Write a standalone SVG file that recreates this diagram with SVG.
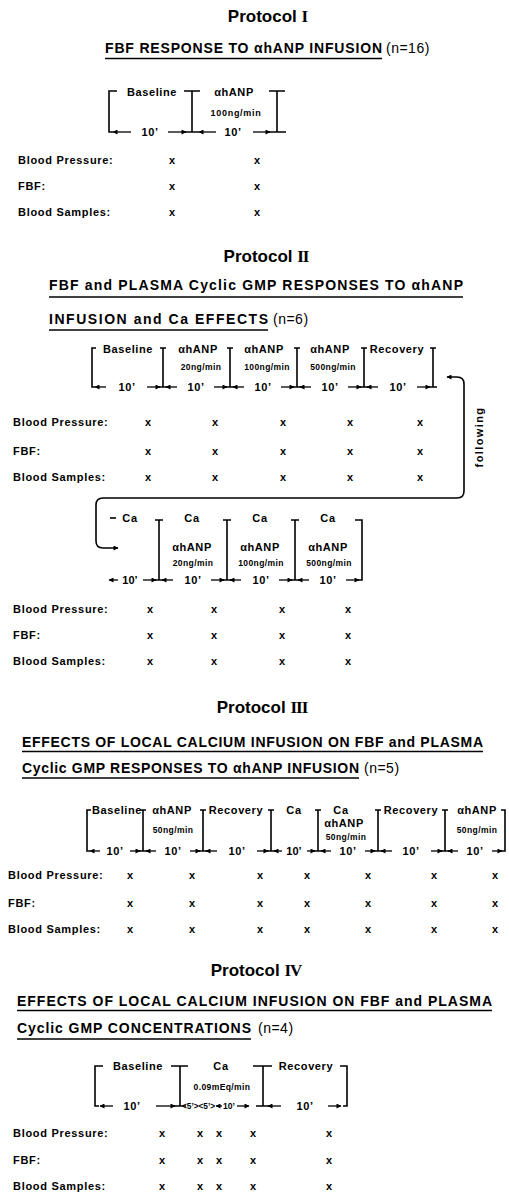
<svg xmlns="http://www.w3.org/2000/svg" width="509" height="1192" viewBox="0 0 509 1192">
<defs>
<marker id="ah" viewBox="0 0 10 10" refX="9" refY="5" markerWidth="6" markerHeight="5" markerUnits="userSpaceOnUse" orient="auto-start-reverse"><path d="M0,0 L10,5 L0,10 z" fill="#000"/></marker>
</defs>
<style>
text{font-family:"Liberation Sans",Arial,Helvetica,sans-serif;fill:#000}
.ttl{font-size:17px;font-weight:bold;text-anchor:middle}
.rn{font-family:"Liberation Serif","Times New Roman",serif}
.hd{font-size:14px;font-weight:bold}
.nn{font-size:14px;letter-spacing:0.5px}
.lab{font-size:11px;font-weight:bold;letter-spacing:0.7px}
.bl{font-size:11px;font-weight:bold;letter-spacing:0.6px;text-anchor:middle}
.sm{font-size:8.5px;font-weight:bold;letter-spacing:0.4px;text-anchor:middle}
.x{font-size:11px;font-weight:bold;text-anchor:middle}
.ln{stroke:#000;stroke-width:1.6;fill:none}
.ul{stroke:#000;stroke-width:1.3}
.ar{stroke:#000;stroke-width:1.3;marker-end:url(#ah)}
</style>
<rect width="509" height="1192" fill="#fff"/>

<!-- Protocol I -->
<g id="p1-title">
<text class="ttl" x="268" y="22">Protocol <tspan class="rn">I</tspan></text>
<text class="hd" x="105" y="53" textLength="277" lengthAdjust="spacing">FBF RESPONSE TO αhANP INFUSION</text>
<line class="ul" x1="105" y1="58.5" x2="382" y2="58.5"/>
<text class="nn" x="386" y="53">(n=16)</text>
</g>
<g id="p1-baseline">
<path class="ln" d="M117,91 H109 V132 H113"/>
<text class="bl" x="152" y="96">Baseline</text>
<line class="ar" x1="131" y1="132" x2="113" y2="132"/>
<text class="bl" x="150" y="136">10’</text>
<line class="ar" x1="168" y1="132" x2="186" y2="132"/>
<path class="ln" d="M184,91 H200 M192,91 V132 M185,132 H199"/>
</g>
<g id="p1-anp">
<text class="bl" x="234" y="96">αhANP</text>
<text class="sm" x="236" y="116" style="font-size:9px;letter-spacing:0.7px">100ng/min</text>
<line class="ar" x1="216" y1="132" x2="199" y2="132"/>
<text class="bl" x="233" y="136">10’</text>
<line class="ar" x1="253" y1="132" x2="270" y2="132"/>
<path class="ln" d="M269,91 H285 M277,91 V132 M268,132 H286"/>
</g>
<g id="p1-rows">
<text class="lab" x="18" y="164">Blood Pressure:</text>
<text class="lab" x="18" y="190">FBF:</text>
<text class="lab" x="18" y="216">Blood Samples:</text>
<text class="x" x="172" y="164">x</text><text class="x" x="257" y="164">x</text>
<text class="x" x="172" y="190">x</text><text class="x" x="257" y="190">x</text>
<text class="x" x="172" y="216">x</text><text class="x" x="257" y="216">x</text>
</g>

<!-- Protocol II -->
<g id="p2-title">
<text class="ttl" x="266" y="262">Protocol <tspan class="rn" style="letter-spacing:-1px">II</tspan></text>
<text class="hd" x="49" y="290" textLength="414" lengthAdjust="spacing">FBF and PLASMA Cyclic GMP RESPONSES TO αhANP</text>
<line class="ul" x1="49" y1="297" x2="463" y2="297"/>
<text class="hd" x="49" y="324" textLength="219" lengthAdjust="spacing">INFUSION and Ca EFFECTS</text>
<line class="ul" x1="49" y1="330" x2="268" y2="330"/>
<text class="nn" x="273" y="324">(n=6)</text>
</g>
<g id="p2-baseline">
<path class="ln" d="M96,348 H92 V387 H95"/>
<text class="bl" x="128" y="353">Baseline</text>
<line class="ar" x1="106" y1="387" x2="95" y2="387"/>
<text class="bl" x="127" y="391">10’</text>
<line class="ar" x1="147" y1="387" x2="160" y2="387"/>
<path class="ln" d="M160,348 H166 M163,348 V387 M159,387 H167"/>
</g>
<g id="p2-anp20">
<text class="bl" x="198" y="353">αhANP</text>
<text class="sm" x="201" y="370">20ng/min</text>
<line class="ar" x1="177" y1="387" x2="166" y2="387"/>
<text class="bl" x="196" y="391">10’</text>
<line class="ar" x1="214" y1="387" x2="227" y2="387"/>
<path class="ln" d="M227,348 H233 M230,348 V387 M226,387 H234"/>
</g>
<g id="p2-anp100">
<text class="bl" x="264" y="353">αhANP</text>
<text class="sm" x="267" y="370">100ng/min</text>
<line class="ar" x1="244" y1="387" x2="233" y2="387"/>
<text class="bl" x="263" y="391">10’</text>
<line class="ar" x1="281" y1="387" x2="294" y2="387"/>
<path class="ln" d="M294,348 H300 M297,348 V387 M293,387 H301"/>
</g>
<g id="p2-anp500">
<text class="bl" x="330" y="353">αhANP</text>
<text class="sm" x="333" y="370">500ng/min</text>
<line class="ar" x1="311" y1="387" x2="300" y2="387"/>
<text class="bl" x="330" y="391">10’</text>
<line class="ar" x1="348" y1="387" x2="361" y2="387"/>
<path class="ln" d="M361,348 H367 M364,348 V387 M360,387 H368"/>
</g>
<g id="p2-recovery">
<text class="bl" x="397" y="353">Recovery</text>
<line class="ar" x1="378" y1="387" x2="367" y2="387"/>
<text class="bl" x="398" y="391">10’</text>
<line class="ar" x1="417" y1="387" x2="430" y2="387"/>
<path class="ln" d="M430,348 H436 M433,348 V387 M429,387 H437"/>
</g>
<g id="p2-rows-a">
<text class="lab" x="13" y="426">Blood Pressure:</text>
<text class="lab" x="13" y="455">FBF:</text>
<text class="lab" x="13" y="481">Blood Samples:</text>
<text class="x" x="148" y="426">x</text><text class="x" x="215" y="426">x</text><text class="x" x="283" y="426">x</text><text class="x" x="350" y="426">x</text><text class="x" x="420" y="426">x</text>
<text class="x" x="148" y="455">x</text><text class="x" x="215" y="455">x</text><text class="x" x="283" y="455">x</text><text class="x" x="350" y="455">x</text><text class="x" x="420" y="455">x</text>
<text class="x" x="148" y="481">x</text><text class="x" x="215" y="481">x</text><text class="x" x="283" y="481">x</text><text class="x" x="350" y="481">x</text><text class="x" x="420" y="481">x</text>
</g>
<g id="connectors">
<path class="ln" d="M447,377 H457 Q464,377 464,384 V491 Q464,498 457,498 H103 Q96,498 96,505 V541 Q96,548 103,548 H118" marker-start="url(#ah)" marker-end="url(#ah)"/>
<text transform="translate(483,437) rotate(-90)" style="font-size:11px;font-weight:bold;letter-spacing:1.4px;text-anchor:middle">following</text>
</g>
<g id="p2-ca">
<path class="ln" d="M110,518 H116"/>
<text class="bl" x="130" y="522">Ca</text>
<line class="ar" x1="118" y1="580" x2="109" y2="580"/>
<text class="bl" x="130" y="584" style="letter-spacing:0">10’</text>
<line class="ar" x1="143" y1="580" x2="156" y2="580"/>
<path class="ln" d="M155,520 H163 M159,520 V580 M155,580 H163"/>
</g>
<g id="p2-ca-anp20">
<text class="bl" x="192" y="522">Ca</text>
<text class="bl" x="192" y="551">αhANP</text>
<text class="sm" x="193" y="566">20ng/min</text>
<line class="ar" x1="173" y1="580" x2="162" y2="580"/>
<text class="bl" x="193" y="584">10’</text>
<line class="ar" x1="211" y1="580" x2="224" y2="580"/>
<path class="ln" d="M223,520 H231 M227,520 V580 M223,580 H231"/>
</g>
<g id="p2-ca-anp100">
<text class="bl" x="260" y="522">Ca</text>
<text class="bl" x="260" y="551">αhANP</text>
<text class="sm" x="261" y="566">100ng/min</text>
<line class="ar" x1="241" y1="580" x2="230" y2="580"/>
<text class="bl" x="261" y="584">10’</text>
<line class="ar" x1="279" y1="580" x2="292" y2="580"/>
<path class="ln" d="M291,520 H299 M295,520 V580 M291,580 H299"/>
</g>
<g id="p2-ca-anp500">
<text class="bl" x="328" y="522">Ca</text>
<text class="bl" x="328" y="551">αhANP</text>
<text class="sm" x="329" y="566">500ng/min</text>
<line class="ar" x1="309" y1="580" x2="298" y2="580"/>
<text class="bl" x="328" y="584">10’</text>
<line class="ar" x1="346" y1="580" x2="359" y2="580"/>
<path class="ln" d="M355,520 H362 V580 H358"/>
</g>
<g id="p2-rows-b">
<text class="lab" x="13" y="613">Blood Pressure:</text>
<text class="lab" x="13" y="639">FBF:</text>
<text class="lab" x="13" y="665">Blood Samples:</text>
<text class="x" x="150" y="613">x</text><text class="x" x="214" y="613">x</text><text class="x" x="282" y="613">x</text><text class="x" x="348" y="613">x</text>
<text class="x" x="150" y="639">x</text><text class="x" x="214" y="639">x</text><text class="x" x="282" y="639">x</text><text class="x" x="348" y="639">x</text>
<text class="x" x="150" y="665">x</text><text class="x" x="214" y="665">x</text><text class="x" x="282" y="665">x</text><text class="x" x="348" y="665">x</text>
</g>

<!-- Protocol III -->
<g id="p3-title">
<text class="ttl" x="262" y="713">Protocol <tspan class="rn" style="letter-spacing:-1px">III</tspan></text>
<text class="hd" x="22" y="747" textLength="461" lengthAdjust="spacing">EFFECTS OF LOCAL CALCIUM INFUSION ON FBF and PLASMA</text>
<line class="ul" x1="22" y1="751.5" x2="483" y2="751.5"/>
<text class="hd" x="22" y="773" textLength="337" lengthAdjust="spacing">Cyclic GMP RESPONSES TO αhANP INFUSION</text>
<line class="ul" x1="22" y1="778" x2="359" y2="778"/>
<text class="nn" x="364" y="773">(n=5)</text>
</g>
<g id="p3-baseline">
<path class="ln" d="M91,810 H87 V851 H90"/>
<text class="bl" x="117" y="814">Baseline</text>
<line class="ar" x1="100" y1="851" x2="90" y2="851"/>
<text class="bl" x="115" y="855">10’</text>
<line class="ar" x1="130" y1="851" x2="140" y2="851"/>
<path class="ln" d="M140,810 H146 M143,810 V851 M139,851 H147"/>
</g>
<g id="p3-anp">
<text class="bl" x="172" y="814">αhANP</text>
<text class="sm" x="173" y="833">50ng/min</text>
<line class="ar" x1="156" y1="851" x2="146" y2="851"/>
<text class="bl" x="173" y="855">10’</text>
<line class="ar" x1="190" y1="851" x2="200" y2="851"/>
<path class="ln" d="M200,810 H206 M203,810 V851 M199,851 H207"/>
</g>
<g id="p3-recovery1">
<text class="bl" x="236" y="814">Recovery</text>
<line class="ar" x1="217" y1="851" x2="206" y2="851"/>
<text class="bl" x="237" y="855">10’</text>
<line class="ar" x1="257" y1="851" x2="268" y2="851"/>
<path class="ln" d="M268,810 H274 M271,810 V851 M267,851 H275"/>
</g>
<g id="p3-ca">
<text class="bl" x="294" y="814">Ca</text>
<line class="ar" x1="282" y1="851" x2="274" y2="851"/>
<text class="bl" x="294" y="855" style="letter-spacing:0">10’</text>
<line class="ar" x1="307" y1="851" x2="315" y2="851"/>
<path class="ln" d="M315,810 H321 M318,810 V851 M314,851 H322"/>
</g>
<g id="p3-ca-anp">
<text class="bl" x="341" y="814">Ca</text>
<text class="bl" x="344" y="827">αhANP</text>
<text class="sm" x="346" y="840">50ng/min</text>
<line class="ar" x1="331" y1="851" x2="321" y2="851"/>
<text class="bl" x="348" y="855">10’</text>
<line class="ar" x1="365" y1="851" x2="375" y2="851"/>
<path class="ln" d="M375,810 H381 M378,810 V851 M374,851 H382"/>
</g>
<g id="p3-recovery2">
<text class="bl" x="411" y="814">Recovery</text>
<line class="ar" x1="392" y1="851" x2="381" y2="851"/>
<text class="bl" x="411" y="855">10’</text>
<line class="ar" x1="431" y1="851" x2="442" y2="851"/>
<path class="ln" d="M442,810 H448 M445,810 V851 M441,851 H449"/>
</g>
<g id="p3-anp2">
<text class="bl" x="477" y="814">αhANP</text>
<text class="sm" x="477" y="833">50ng/min</text>
<line class="ar" x1="458" y1="851" x2="448" y2="851"/>
<text class="bl" x="475" y="855">10’</text>
<line class="ar" x1="492" y1="851" x2="502" y2="851"/>
<path class="ln" d="M501,810 H505 V851 H501"/>
</g>
<g id="p3-rows">
<text class="lab" x="8" y="879">Blood Pressure:</text>
<text class="lab" x="8" y="907">FBF:</text>
<text class="lab" x="8" y="933">Blood Samples:</text>
<text class="x" x="130" y="879">x</text><text class="x" x="192" y="879">x</text><text class="x" x="260" y="879">x</text><text class="x" x="307" y="879">x</text><text class="x" x="368" y="879">x</text><text class="x" x="434" y="879">x</text><text class="x" x="495" y="879">x</text>
<text class="x" x="130" y="907">x</text><text class="x" x="192" y="907">x</text><text class="x" x="260" y="907">x</text><text class="x" x="307" y="907">x</text><text class="x" x="368" y="907">x</text><text class="x" x="434" y="907">x</text><text class="x" x="495" y="907">x</text>
<text class="x" x="130" y="933">x</text><text class="x" x="192" y="933">x</text><text class="x" x="260" y="933">x</text><text class="x" x="307" y="933">x</text><text class="x" x="368" y="933">x</text><text class="x" x="434" y="933">x</text><text class="x" x="495" y="933">x</text>
</g>

<!-- Protocol IV -->
<g id="p4-title">
<text class="ttl" x="256" y="976">Protocol <tspan class="rn" style="letter-spacing:-1px">IV</tspan></text>
<text class="hd" x="17" y="1006" textLength="475" lengthAdjust="spacing">EFFECTS OF LOCAL CALCIUM INFUSION ON FBF and PLASMA</text>
<line class="ul" x1="17" y1="1010.5" x2="492" y2="1010.5"/>
<text class="hd" x="17" y="1033" textLength="234" lengthAdjust="spacing">Cyclic GMP CONCENTRATIONS</text>
<line class="ul" x1="17" y1="1039" x2="251" y2="1039"/>
<text class="nn" x="258" y="1033">(n=4)</text>
</g>
<g id="p4-baseline">
<path class="ln" d="M103,1066 H95 V1106 H99"/>
<text class="bl" x="138" y="1070">Baseline</text>
<line class="ar" x1="113" y1="1106" x2="100" y2="1106"/>
<text class="bl" x="132" y="1110">10’</text>
<line class="ar" x1="156" y1="1106" x2="175" y2="1106"/>
<path class="ln" d="M171,1066 H188 M180,1066 V1106 M174,1106 H186"/>
</g>
<g id="p4-ca">
<text class="bl" x="221" y="1070">Ca</text>
<text class="sm" x="222" y="1090">0.09mEq/min</text>
<text x="182" y="1109" textLength="33" lengthAdjust="spacingAndGlyphs" style="font-size:8.5px;font-weight:bold">&lt;5’&gt;&lt;5’&gt;</text>
<line class="ar" x1="222" y1="1106" x2="216" y2="1106"/>
<text x="229" y="1109" style="font-size:8.5px;font-weight:bold;text-anchor:middle">10’</text>
<line class="ar" x1="237" y1="1106" x2="249" y2="1106"/>
<path class="ln" d="M253,1066 H272 M263,1066 V1106 M256,1106 H270"/>
</g>
<g id="p4-recovery">
<text class="bl" x="306" y="1070">Recovery</text>
<line class="ar" x1="281" y1="1106" x2="268" y2="1106"/>
<text class="bl" x="305" y="1110">10’</text>
<line class="ar" x1="328" y1="1106" x2="341" y2="1106"/>
<path class="ln" d="M340,1066 H347 V1106 H343"/>
</g>
<g id="p4-rows">
<text class="lab" x="13" y="1137">Blood Pressure:</text>
<text class="lab" x="13" y="1164">FBF:</text>
<text class="lab" x="13" y="1190">Blood Samples:</text>
<text class="x" x="162" y="1137">x</text><text class="x" x="200" y="1137">x</text><text class="x" x="219" y="1137">x</text><text class="x" x="253" y="1137">x</text><text class="x" x="329" y="1137">x</text>
<text class="x" x="162" y="1164">x</text><text class="x" x="200" y="1164">x</text><text class="x" x="219" y="1164">x</text><text class="x" x="253" y="1164">x</text><text class="x" x="329" y="1164">x</text>
<text class="x" x="162" y="1190">x</text><text class="x" x="200" y="1190">x</text><text class="x" x="219" y="1190">x</text><text class="x" x="253" y="1190">x</text><text class="x" x="329" y="1190">x</text>
</g>
</svg>
